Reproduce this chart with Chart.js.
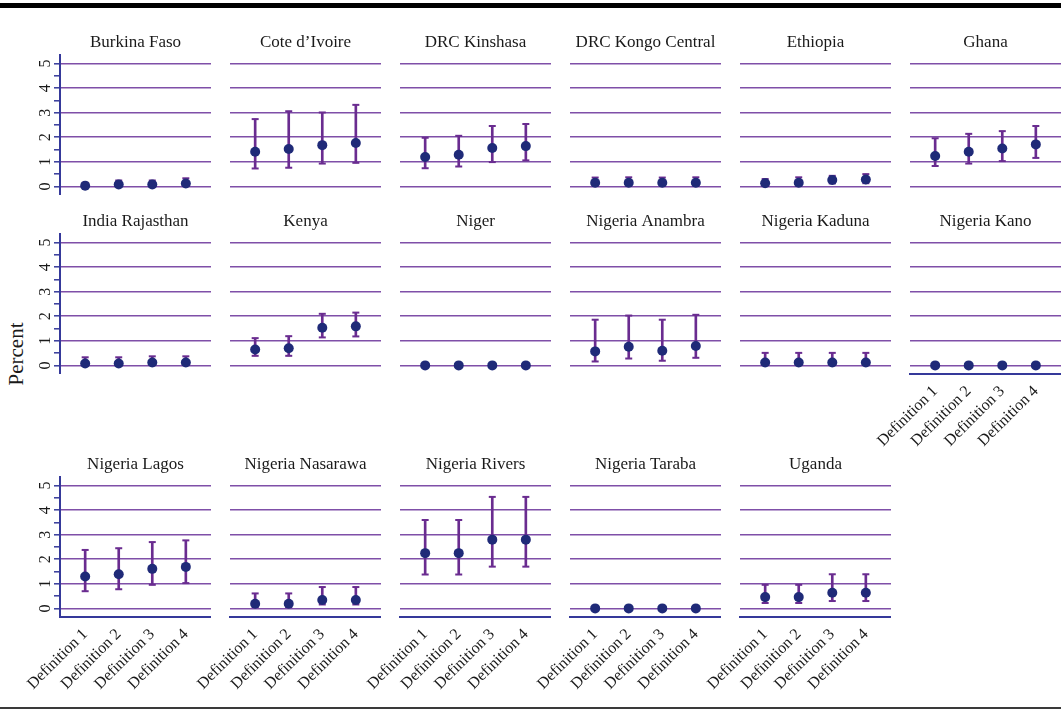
<!DOCTYPE html>
<html>
<head>
<meta charset="utf-8">
<script src="https://cdn.jsdelivr.net/npm/chart.js"></script>
<style>
  html, body { margin: 0; padding: 0; background: #fff; }
  body { width: 1061px; height: 710px; position: relative; overflow: hidden; font-family: "Liberation Serif", serif; }
  canvas { position: absolute; }
  .topbar { position: absolute; left: 0; top: 3px; width: 1061px; height: 5px; background: #000; }
  .bottomline { position: absolute; left: 0; top: 707px; width: 1061px; height: 2px; background: #3a3a3a; }
  .ylab { position: absolute; left: 16px; top: 354px; transform: translate(-50%, -50%) rotate(-90deg); font-size: 21px; color: #1a1a1a; white-space: nowrap; }
</style>
</head>
<body>
<div class="topbar"></div>
<div class="bottomline"></div>
<div class="ylab">Percent</div>
<script>
const panelTitles = [
  "Burkina Faso", "Cote d’Ivoire", "DRC Kinshasa", "DRC Kongo Central", "Ethiopia", "Ghana",
  "India Rajasthan", "Kenya", "Niger", "Nigeria Anambra", "Nigeria Kaduna", "Nigeria Kano",
  "Nigeria Lagos", "Nigeria Nasarawa", "Nigeria Rivers", "Nigeria Taraba", "Uganda"
];
const definitions = ["Definition 1", "Definition 2", "Definition 3", "Definition 4"];
const xPositions = [1, 2, 3, 4];
const yTicks = [0, 0.5, 1, 1.5, 2, 2.5, 3, 3.5, 4, 4.5, 5];

// point estimate per panel, one value per definition
const meanValues = [
  [0.03, 0.08, 0.08, 0.12],
  [1.41, 1.52, 1.68, 1.77],
  [1.20, 1.29, 1.56, 1.64],
  [0.15, 0.15, 0.15, 0.15],
  [0.13, 0.15, 0.26, 0.28],
  [1.24, 1.41, 1.54, 1.71],
  [0.08, 0.08, 0.12, 0.12],
  [0.65, 0.70, 1.53, 1.59],
  [0, 0, 0, 0],
  [0.57, 0.76, 0.60, 0.79],
  [0.12, 0.12, 0.12, 0.12],
  [0, 0, 0, 0],
  [1.30, 1.39, 1.61, 1.69],
  [0.19, 0.19, 0.34, 0.34],
  [2.25, 2.25, 2.80, 2.80],
  [0, 0, 0, 0],
  [0.46, 0.46, 0.64, 0.64]
];
const lowerValues = [
  [0.00, 0.01, 0.01, 0.02],
  [0.73, 0.76, 0.93, 0.96],
  [0.74, 0.81, 0.99, 1.06],
  [0.05, 0.05, 0.05, 0.05],
  [0.03, 0.04, 0.12, 0.13],
  [0.83, 0.93, 1.03, 1.16],
  [0.01, 0.01, 0.02, 0.02],
  [0.39, 0.39, 1.14, 1.18],
  [0, 0, 0, 0],
  [0.16, 0.28, 0.19, 0.31],
  [0.02, 0.02, 0.02, 0.02],
  [0, 0, 0, 0],
  [0.70, 0.78, 0.96, 1.03],
  [0.05, 0.05, 0.16, 0.16],
  [1.38, 1.38, 1.70, 1.70],
  [0, 0, 0, 0],
  [0.22, 0.22, 0.30, 0.30]
];
const upperValues = [
  [0.15, 0.24, 0.24, 0.33],
  [2.74, 3.06, 3.01, 3.32],
  [1.98, 2.06, 2.46, 2.54],
  [0.36, 0.37, 0.36, 0.37],
  [0.30, 0.37, 0.43, 0.50],
  [1.96, 2.14, 2.25, 2.46],
  [0.33, 0.33, 0.37, 0.37],
  [1.11, 1.19, 2.10, 2.15],
  [0, 0, 0, 0],
  [1.86, 2.03, 1.86, 2.06],
  [0.51, 0.51, 0.51, 0.51],
  [0, 0, 0, 0],
  [2.38, 2.45, 2.70, 2.77],
  [0.61, 0.61, 0.87, 0.87],
  [3.60, 3.60, 4.54, 4.54],
  [0, 0, 0, 0],
  [0.96, 0.96, 1.39, 1.39]
];

const COL_W = 170;
const PLOT_W = 151;
const PLOT_H = 140;
const LEFT = 60;
const TITLE_H = 21;
const AXIS_H = 85;
const rowTops = [55, 234, 477];

const gridPurple = "#7f4fa8";
const barPurple = "#6a2c90";
const dotNavy = "#1f2a78";
const axisBlue = "#35399a";
const textColor = "#1a1a1a";
const serif = "'Liberation Serif', 'Times New Roman', serif";

function drawPanel(i) {
  const row = Math.floor(i / 6);
  const col = i % 6;
  const hasXAxis = row === 2 || i === 11;

  const canvas = document.createElement("canvas");
  canvas.width = LEFT + PLOT_W;
  canvas.height = TITLE_H + PLOT_H + (hasXAxis ? AXIS_H : 0);
  canvas.style.left = COL_W * col + "px";
  canvas.style.top = rowTops[row] - TITLE_H + "px";
  document.body.appendChild(canvas);

  const points = xPositions.map((x, k) => ({ x, y: meanValues[i][k] }));
  const ranges = xPositions.map((x, k) => ({ x, y: [lowerValues[i][k], upperValues[i][k]] }));
  const caps = xPositions.flatMap((x, k) => [
    { x, y: lowerValues[i][k] },
    { x, y: upperValues[i][k] },
  ]);

  return new Chart(canvas, {
    type: "scatter",
    data: {
      datasets: [
        {
          data: points,
          order: 0,
          backgroundColor: dotNavy,
          borderWidth: 0,
          pointRadius: 5,
        },
        {
          type: "bar",
          data: ranges,
          order: 2,
          backgroundColor: barPurple,
          borderWidth: 0,
          barThickness: 2,
        },
        {
          data: caps,
          order: 1,
          pointStyle: "line",
          pointRadius: 3.5,
          borderColor: barPurple,
          borderWidth: 2,
        },
      ],
    },
    options: {
      responsive: false,
      animation: false,
      devicePixelRatio: 1,
      layout: { padding: 0, autoPadding: false },
      plugins: {
        legend: { display: false },
        tooltip: { enabled: false },
        title: {
          display: true,
          text: panelTitles[i],
          fullSize: false,
          color: textColor,
          font: { family: serif, size: 17, weight: "normal", lineHeight: 1 },
          padding: { top: 0, bottom: 4 },
        },
      },
      scales: {
        x: {
          type: "linear",
          min: 0.25,
          max: 4.75,
          offset: false,
          display: hasXAxis,
          afterBuildTicks: (s) => {
            s.ticks = xPositions.map((v) => ({ value: v }));
          },
          afterFit: (s) => {
            s.height = hasXAxis ? AXIS_H : 0;
            s.paddingLeft = 0;
            s.paddingRight = 0;
          },
          grid: { display: false, offset: false },
          border: { display: true, color: axisBlue, width: 2 },
          ticks: {
            autoSkip: false,
            minRotation: 45,
            maxRotation: 45,
            padding: 0,
            color: textColor,
            font: { family: serif, size: 16 },
            callback: (v) => definitions[xPositions.indexOf(v)],
          },
        },
        y: {
          type: "linear",
          min: -0.35,
          max: 5.35,
          afterBuildTicks: (s) => {
            s.ticks = yTicks.map((v) => ({ value: v }));
          },
          afterFit: (s) => {
            s.width = LEFT;
            s.paddingTop = 0;
            s.paddingBottom = 0;
          },
          border: { display: col === 0, color: axisBlue, width: 2 },
          grid: {
            color: (c) => (c.tick && Number.isInteger(c.tick.value) ? gridPurple : "rgba(0,0,0,0)"),
            lineWidth: 1.6,
            drawTicks: col === 0,
            tickLength: 6,
            tickColor: axisBlue,
            tickWidth: 1.5,
          },
          ticks: {
            display: col === 0,
            minRotation: 90,
            maxRotation: 90,
            crossAlign: "center",
            padding: 4,
            color: textColor,
            font: { family: serif, size: 16 },
            callback: (v) => (Number.isInteger(v) ? String(v) : ""),
          },
        },
      },
    },
  });
}

panelTitles.forEach((t, i) => drawPanel(i));
</script>
</body>
</html>
